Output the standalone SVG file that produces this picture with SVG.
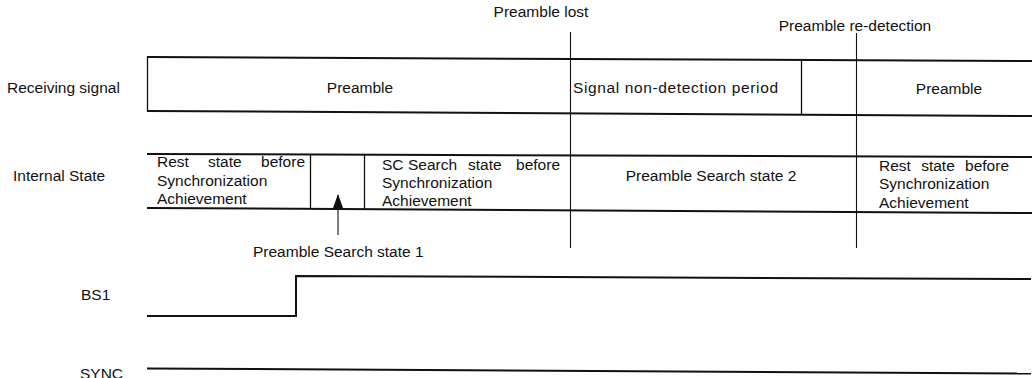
<svg xmlns="http://www.w3.org/2000/svg" width="1034" height="378" viewBox="0 0 1034 378">
  <style>
    text { font-family: "Liberation Sans", Arial, sans-serif; font-size: 15.5px; fill: #111; }
    .mid { text-anchor: middle; }
    .end { text-anchor: end; }
    .edge { stroke: #111; stroke-width: 2; fill: none; }
    .div { stroke: #111; stroke-width: 1.3; fill: none; }
    .mark { stroke: #111; stroke-width: 1.1; fill: none; }
  </style>
  <defs>
    <marker id="arrowhead" viewBox="0 0 14 10" refX="13" refY="5" markerWidth="14" markerHeight="10" markerUnits="userSpaceOnUse" orient="auto">
      <path d="M0,0 L14,5 L0,10 Z" fill="#111"/>
    </marker>
  </defs>
  <rect width="1034" height="378" fill="#fff"/>

  <!-- row titles -->
  <g id="row-labels">
    <text x="7" y="93">Receiving signal</text>
    <text x="13" y="181">Internal State</text>
    <text x="81" y="300">BS1</text>
    <text x="80" y="379">SYNC</text>
  </g>

  <!-- event labels -->
  <g id="event-preamble-lost">
    <text class="mid" x="541" y="17">Preamble lost</text>
    <line class="mark" x1="570.5" y1="32" x2="570.5" y2="248"/>
  </g>
  <g id="event-preamble-redetection">
    <text class="mid" x="855" y="31">Preamble re-detection</text>
    <line class="mark" x1="856.5" y1="33" x2="856.5" y2="248"/>
  </g>

  <!-- receiving signal band -->
  <g id="receiving-signal">
    <line class="edge" x1="147" y1="57" x2="1032" y2="61"/>
    <line class="edge" x1="147" y1="111" x2="1032" y2="116"/>
    <line class="div" x1="147.5" y1="56" x2="147.5" y2="112"/>
    <line class="div" x1="801.5" y1="59" x2="801.5" y2="114"/>
  </g>
  <g id="rs-preamble-1"><text class="mid" x="360" y="93">Preamble</text></g>
  <g id="rs-non-detection"><text x="573" y="93" textLength="205" lengthAdjust="spacing">Signal non-detection period</text></g>
  <g id="rs-preamble-2"><text class="mid" x="949" y="94">Preamble</text></g>

  <!-- internal state band -->
  <g id="internal-state">
    <line class="edge" x1="147" y1="154" x2="1032" y2="157"/>
    <line class="edge" x1="147" y1="208" x2="1032" y2="213"/>
    <line class="div" x1="310.5" y1="154" x2="310.5" y2="208"/>
    <line class="div" x1="364.5" y1="154" x2="364.5" y2="209"/>
  </g>
  <!-- justified first lines: words placed individually -->
  <g id="is-rest-1">
    <text x="157" y="167">Rest</text>
    <text x="208" y="167">state</text>
    <text class="end" x="305" y="167">before</text>
    <text x="157" y="185.5">Synchronization</text>
    <text x="157" y="204">Achievement</text>
  </g>
  <g id="is-preamble-search-1"></g>
  <g id="is-sc-search">
    <text x="382" y="169.5">SC</text>
    <text x="408" y="169.5">Search</text>
    <text x="468" y="169.5">state</text>
    <text class="end" x="560" y="169.5">before</text>
    <text x="382" y="187.5">Synchronization</text>
    <text x="382" y="206">Achievement</text>
  </g>
  <g id="is-preamble-search-2"><text class="mid" x="711" y="181">Preamble Search state 2</text></g>
  <g id="is-rest-2">
    <text x="879" y="170.5">Rest</text>
    <text class="mid" x="938" y="170.5">state</text>
    <text class="end" x="1009" y="170.5">before</text>
    <text x="879" y="189">Synchronization</text>
    <text x="879" y="207.5">Achievement</text>
  </g>
  <g id="label-preamble-search-1"><text x="253" y="257">Preamble Search state 1</text></g>

  <!-- callout arrow and signal traces -->
  <g id="connectors">
    <line class="mark" x1="338" y1="235" x2="338" y2="195" stroke-width="1.5" marker-end="url(#arrowhead)"/>
    <polyline class="edge" points="147,316 296,316 296,276 1031,279"/>
    <line class="edge" x1="147" y1="368.5" x2="1031" y2="373.5"/>
  </g>
</svg>
